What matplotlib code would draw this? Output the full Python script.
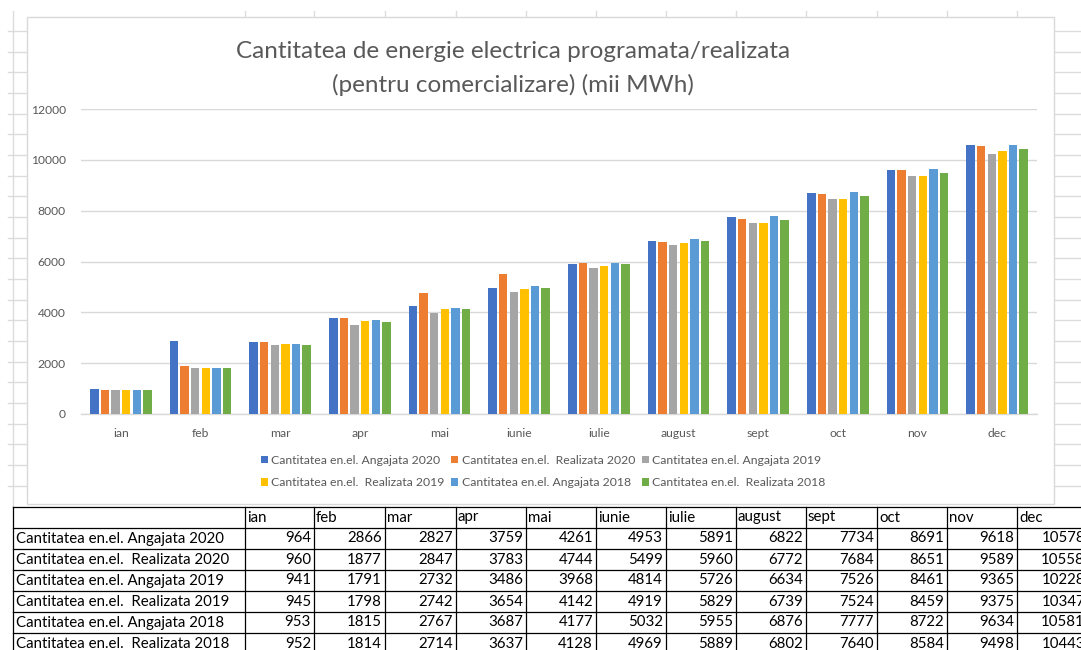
import matplotlib
matplotlib.use('Agg')
import matplotlib.pyplot as plt
from matplotlib.patches import Rectangle
import numpy as np

months = ['ian', 'feb', 'mar', 'apr', 'mai', 'iunie', 'iulie', 'august', 'sept', 'oct', 'nov', 'dec']
series_labels = ['Cantitatea en.el. Angajata 2020',
                 'Cantitatea en.el.  Realizata 2020',
                 'Cantitatea en.el. Angajata 2019',
                 'Cantitatea en.el.  Realizata 2019',
                 'Cantitatea en.el. Angajata 2018',
                 'Cantitatea en.el.  Realizata 2018']
angajata_2020 = [964, 2866, 2827, 3759, 4261, 4953, 5891, 6822, 7734, 8691, 9618, 10578]
realizata_2020 = [960, 1877, 2847, 3783, 4744, 5499, 5960, 6772, 7684, 8651, 9589, 10558]
angajata_2019 = [941, 1791, 2732, 3486, 3968, 4814, 5726, 6634, 7526, 8461, 9365, 10228]
realizata_2019 = [945, 1798, 2742, 3654, 4142, 4919, 5829, 6739, 7524, 8459, 9375, 10347]
angajata_2018 = [953, 1815, 2767, 3687, 4177, 5032, 5955, 6876, 7777, 8722, 9634, 10581]
realizata_2018 = [952, 1814, 2714, 3637, 4128, 4969, 5889, 6802, 7640, 8584, 9498, 10443]
series = [angajata_2020, realizata_2020, angajata_2019, realizata_2019, angajata_2018, realizata_2018]
title_lines = ['Cantitatea de energie electrica programata/realizata',
               '(pentru comercializare) (mii MWh)']

colors = ['#4472C4', '#ED7D31', '#A5A5A5', '#FFC000', '#5B9BD5', '#70AD47']
FONT = ['Lato', 'DejaVu Sans']
plt.rcParams['font.family'] = FONT

W, H = 1081, 650
fig = plt.figure(figsize=(W / 100, H / 100), dpi=100)
fig.patch.set_facecolor('white')

# ---- background spreadsheet (pixel coordinates)
bg = fig.add_axes([0, 0, 1, 1])
bg.set_xlim(0, W)
bg.set_ylim(H, 0)
bg.axis('off')
grid_c = '#DCDCDC'
for y in np.arange(31, 500, 20.67):
    bg.plot([8, 27], [y, y], color=grid_c, lw=1.0)
    bg.plot([1054, W], [y, y], color=grid_c, lw=1.0)
bg.plot([13, 13], [11, 507], color=grid_c, lw=1.0)
col_x = [13, 245, 314, 385, 456, 526, 596, 666, 736, 806, 877, 947, 1017, 1088]
for x in col_x[1:-1]:
    bg.plot([x, x], [11, 17], color=grid_c, lw=1.0)

# chart box
bg.add_patch(Rectangle((27, 17), 1054 - 27, 504 - 17, facecolor='white',
                       edgecolor='#D9D9D9', lw=1.0, zorder=2))

# title
bg.text(513, 52, title_lines[0], ha='center', va='center', fontsize=17.5,
        color='#595959', zorder=3)
bg.text(513, 85, title_lines[1], ha='center', va='center', fontsize=17.5,
        color='#595959', zorder=3)

# ---- table
row_y = [507, 528, 549, 570, 591, 612, 633, 654]
for y in row_y:
    bg.plot([13, W], [y, y], color='black', lw=0.9, zorder=3)
for x in col_x:
    bg.plot([x, x], [507, H], color='black', lw=0.9, zorder=3)
tfs = 10.8
for j, m in enumerate(months):
    bg.text(col_x[j + 1] + 2, (row_y[0] + row_y[1]) / 2, m, ha='left', va='center',
            fontsize=tfs, color='black', zorder=4)
for i, (lab, vals) in enumerate(zip(series_labels, series)):
    yc = (row_y[i + 1] + row_y[i + 2]) / 2
    bg.text(16, yc, lab, ha='left', va='center', fontsize=tfs, color='black', zorder=4)
    for j, v in enumerate(vals):
        bg.text(col_x[j + 2] - 3, yc, str(v), ha='right', va='center',
                fontsize=tfs, color='black', zorder=4)

# ---- chart
ax = fig.add_axes([81 / W, (H - 414) / H, (1037 - 81) / W, (414 - 109) / H])
ax.patch.set_visible(False)
ax.set_zorder(5)
x = np.arange(len(months))
slot = 0.133
bw = 0.105
handles = []
for k, (vals, c, lab) in enumerate(zip(series, colors, series_labels)):
    off = (k - 2.5) * slot
    h = ax.bar(x + off, vals, width=bw, color=c, label=lab, zorder=3)
    handles.append(h)
ax.set_xlim(-0.5, 11.5)
ax.set_ylim(0, 12000)
ax.set_yticks(np.arange(0, 12001, 2000))
ax.grid(axis='y', color='#D9D9D9', lw=1.0, zorder=0)
for s in ['top', 'right', 'left']:
    ax.spines[s].set_visible(False)
ax.spines['bottom'].set_color('#D9D9D9')
ax.spines['bottom'].set_linewidth(1.0)
ax.tick_params(axis='both', length=0, labelsize=8.7, labelcolor='#595959')
ax.tick_params(axis='y', pad=11)
ax.tick_params(axis='x', pad=10)
ax.set_xticks(x)
ax.set_xticklabels(months)

order = [0, 3, 1, 4, 2, 5]
leg = fig.legend([handles[i] for i in order], [series_labels[i] for i in order],
                 ncol=3, loc='center', bbox_to_anchor=(543 / W, 1 - 471.5 / H),
                 frameon=False, fontsize=8.8, labelcolor='#595959',
                 handlelength=0.6, handleheight=0.6, handletextpad=0.25,
                 columnspacing=0.55, labelspacing=0.95)

fig.savefig('out.png', dpi=100)
